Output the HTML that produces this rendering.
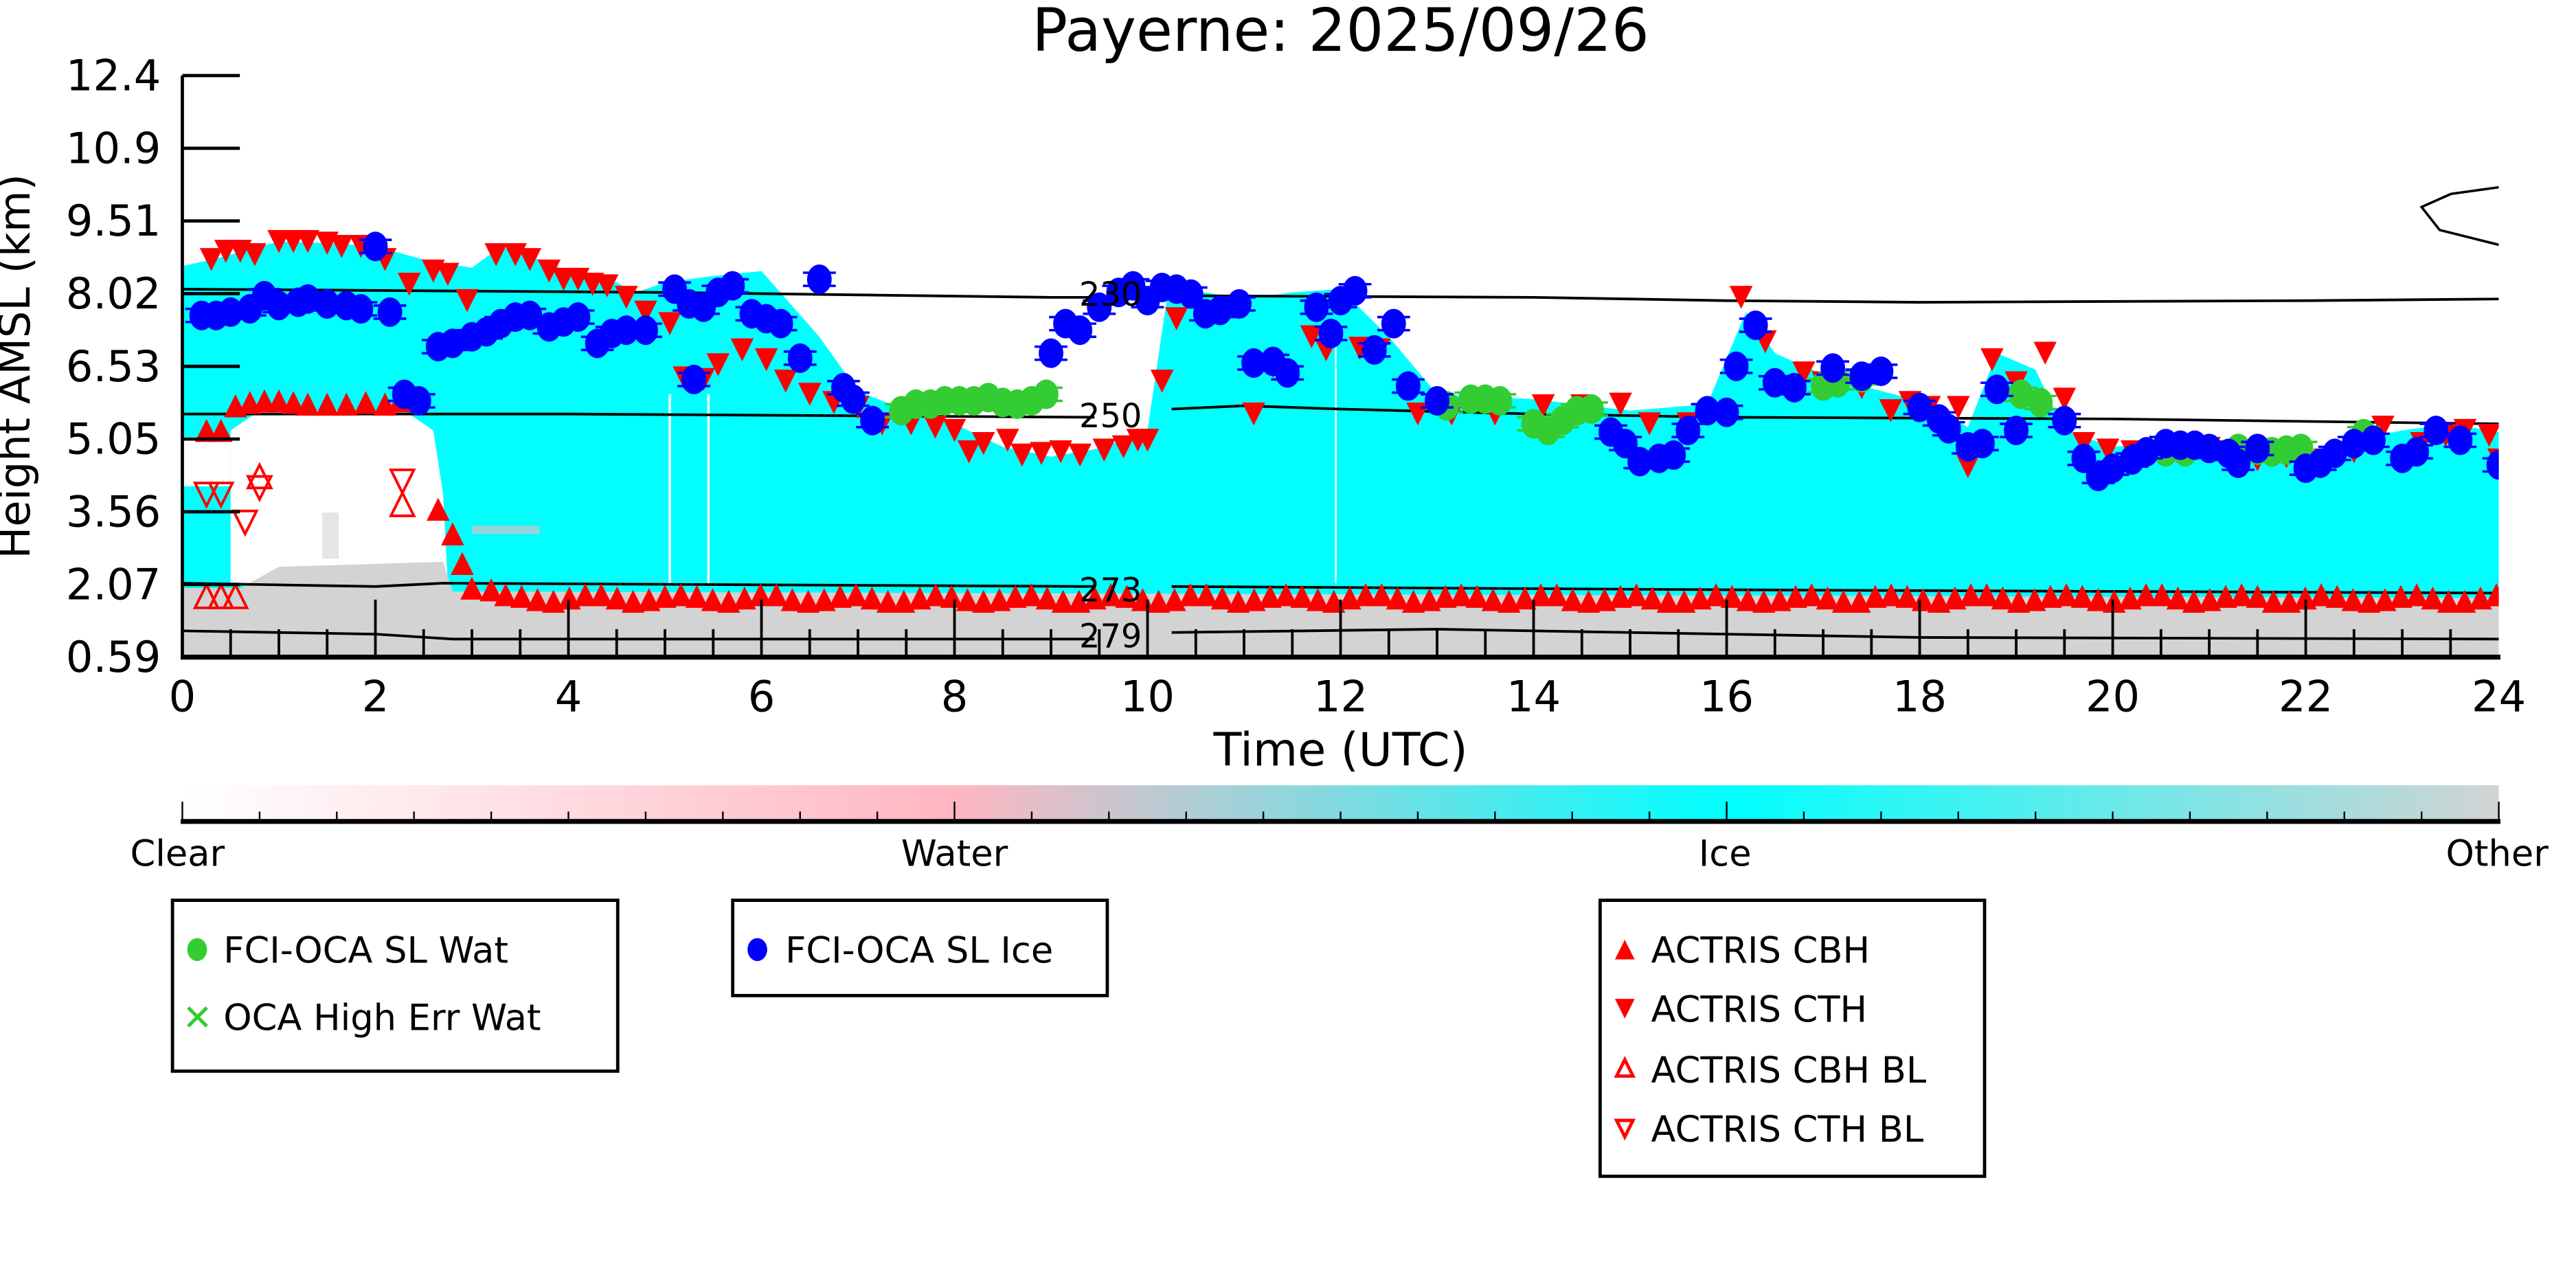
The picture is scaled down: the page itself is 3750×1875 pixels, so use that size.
<!DOCTYPE html>
<html><head><meta charset="utf-8"><style>
html,body{margin:0;padding:0;background:#fff;overflow:hidden}
svg{display:block}
text{font-family:"DejaVu Sans","Liberation Sans",sans-serif}
</style></head><body>
<svg id="s" width="3750" height="1875" viewBox="0 0 1568 784" preserveAspectRatio="none" xmlns="http://www.w3.org/2000/svg">
<defs>
<linearGradient id="cb" x1="0" x2="1" y1="0" y2="0">
<stop offset="0" stop-color="#ffffff"/>
<stop offset="0.333" stop-color="#ffb6c1"/>
<stop offset="0.667" stop-color="#00ffff"/>
<stop offset="1" stop-color="#d3d3d3"/>
</linearGradient>
<clipPath id="pc"><rect x="111" y="46" width="1410" height="354"/></clipPath>
</defs>
<text x="816" y="31" font-size="36" text-anchor="middle">Payerne: 2025/09/26</text>
<g clip-path="url(#pc)" id="plot"></g>
<g id="axes"></g>
<rect x="111" y="478" width="1410" height="22" fill="url(#cb)"/>
<g id="cbax"></g>
<g font-size="22" text-anchor="middle">
<text x="108" y="527">Clear</text><text x="581" y="527">Water</text><text x="1050" y="527">Ice</text><text x="1520" y="527">Other</text>
</g>
<g fill="none" stroke="#000" stroke-width="2">
<rect x="105" y="548" width="271" height="104"/>
<rect x="446" y="548" width="228" height="58"/>
<rect x="974" y="548" width="234" height="168"/>
</g>
<g font-size="22">
<ellipse cx="120" cy="578" rx="6" ry="7" fill="#33cc33"/><text x="136" y="586">FCI-OCA SL Wat</text>
<text x="111" y="627" fill="#33cc33" font-size="22">✕</text><text x="136" y="627">OCA High Err Wat</text>
<ellipse cx="461" cy="578" rx="6" ry="7" fill="#0000ff"/><text x="478" y="586">FCI-OCA SL Ice</text>
<polygon points="983,584 995,584 989,572" fill="#f00"/><text x="1005" y="586">ACTRIS CBH</text>
<polygon points="983,608 995,608 989,620" fill="#f00"/><text x="1005" y="622">ACTRIS CTH</text>
<polygon points="984,655 994,655 989,645" fill="none" stroke="#f00" stroke-width="2"/><text x="1005" y="659">ACTRIS CBH BL</text>
<polygon points="984,682 994,682 989,692" fill="none" stroke="#f00" stroke-width="2"/><text x="1005" y="695">ACTRIS CTH BL</text>
</g>
<text x="816" y="466" font-size="28" text-anchor="middle">Time (UTC)</text>
<text transform="translate(18,223) rotate(-90)" font-size="26" text-anchor="middle">Height AMSL (km)</text>
</svg>
<script>
(function(){
var NS="http://www.w3.org/2000/svg";
function X(t){return 111+t*58.75;}
function el(p,n,a){var e=document.createElementNS(NS,n);for(var k in a)e.setAttribute(k,a[k]);p.appendChild(e);return e;}
var P=document.getElementById('plot'),A=document.getElementById('axes'),C=document.getElementById('cbax');
var envTop=[[0,162],[0.3,158],[0.5,155],[1,147],[1.5,148],[2,150],[2.5,158],[3,163],[3.3,150],[3.7,158],[4,165],[4.5,172],[4.7,178],[5,172],[5.5,168],[6,165],[6.3,185],[6.6,205],[7,238],[7.5,250],[8,258],[8.5,272],[9,278],[9.5,273],[10,262],[10.2,182],[10.6,178],[11,182],[11.5,178],[12,176],[12.5,205],[13,240],[14,243],[15,250],[15.8,246],[16.2,190],[16.5,215],[17,228],[17.6,238],[18,244],[18.5,260],[18.8,215],[19.2,225],[19.5,262],[20,272],[21,268],[22,275],[22.5,268],[23,262],[23.5,258],[24,263]];
var d="M"+X(0)+",400 ";envTop.forEach(function(p){d+="L"+X(p[0])+","+p[1]+" ";});d+="L"+X(24)+",400Z";
el(P,'path',{d:d,fill:'#00ffff'});
el(P,'path',{d:"M"+X(0.5)+",355 L"+X(0.5)+",262 L"+X(0.8)+",250 L"+X(2.3)+",250 L"+X(2.6)+",262 L"+X(2.7)+",300 L"+X(2.75)+",355Z",fill:'#fff'});
el(P,'rect',{x:X(0),y:266,width:X(0.5)-X(0),height:30,fill:'#fff'});
el(P,'path',{d:"M"+X(0)+",400 L"+X(0)+",358 L"+X(0.6)+",358 L"+X(1)+",345 L"+X(2.7)+",342 L"+X(2.8)+",360 L"+X(24)+",364 L"+X(24)+",400Z",fill:'#d3d3d3'});
el(P,'rect',{x:X(1.45),y:312,width:10,height:28,fill:'#d3d3d3',opacity:0.6});
el(P,'rect',{x:X(3),y:320,width:X(3.7)-X(3),height:5,fill:'#ffb6c1',opacity:0.6});
el(P,'line',{x1:X(5.05),x2:X(5.05),y1:240,y2:355,stroke:'#fff','stroke-width':1.5});
el(P,'line',{x1:X(5.45),x2:X(5.45),y1:240,y2:355,stroke:'#fff','stroke-width':1.5});
el(P,'line',{x1:X(11.95),x2:X(11.95),y1:200,y2:355,stroke:'#fff','stroke-width':1});
function cl(pts){el(P,'polyline',{points:pts.map(function(p){return X(p[0])+","+p[1];}).join(" "),fill:'none',stroke:'#000','stroke-width':1.6});}
cl([[0,176],[5,178],[9,181],[9.45,181]]);cl([[10.25,180],[14,181],[16,183],[18,184],[22,183],[24,182]]);
cl([[0,252],[4,252],[9.45,254]]);cl([[10.25,249],[11,247],[12,249],[14,252],[16,254],[20,255],[24,258]]);
cl([[0,355],[2,357],[2.7,355],[9.45,357]]);cl([[10.25,357],[16,359],[20,360],[24,361]]);
cl([[0,384],[2,386],[2.8,389],[9.45,389]]);cl([[10.25,385],[13,383],[15,385],[18,388],[24,389]]);
el(P,'path',{d:"M1521,114 L1492,118 L1474,126 L1485,140 L1521,149",fill:'none',stroke:'#000','stroke-width':1.5});
function up(t,y,fill){var x=X(t);el(P,'polygon',{points:(x-7)+","+(y+7)+" "+(x+7)+","+(y+7)+" "+x+","+(y-7),fill:fill?'#f00':'none',stroke:'#f00','stroke-width':fill?0:1.6});}
function dn(t,y,fill){var x=X(t);el(P,'polygon',{points:(x-7)+","+(y-7)+" "+(x+7)+","+(y-7)+" "+x+","+(y+7),fill:fill?'#f00':'none',stroke:'#f00','stroke-width':fill?0:1.6});}
function circ(t,y,c){var x=X(t);el(P,'line',{x1:x-10,x2:x+10,y1:y-4,y2:y-4,stroke:c,'stroke-width':1.5});el(P,'line',{x1:x-10,x2:x+10,y1:y+4,y2:y+4,stroke:c,'stroke-width':1.5});el(P,'ellipse',{cx:x,cy:y,rx:7.5,ry:9,fill:c});}
[[0.25,262],[0.4,262],[0.55,247],[0.7,245],[0.85,244],[1,244],[1.15,245],[1.3,246],[1.5,246],[1.7,246],[1.9,245],[2.1,246],[2.25,244],[2.65,310],[2.8,325],[2.9,343],[3.0,358],[3.2,359]].forEach(function(p){up(p[0],p[1],1);});
for(var t=3.35;t<=24;t+=0.165){up(t,364+Math.round(Math.sin(t*7)*2),1);}
[[0.3,158],[0.45,153],[0.6,153],[0.75,155],[1,147],[1.15,147],[1.3,147],[1.5,148],[1.65,150],[1.85,150],[2.1,158],[2.35,173],[2.6,165],[2.75,167],[2.95,183],[3.25,155],[3.45,155],[3.6,158],[3.8,165],[3.95,170],[4.1,170],[4.25,173],[4.4,174],[4.6,181],[4.8,190],[5.05,197],[5.2,230],[5.4,231],[5.55,222],[5.8,213],[6.05,219],[6.25,232],[6.5,240],[6.75,245],[7.0,248],[7.25,258],[7.55,258],[7.8,260],[8.0,262],[8.15,275],[8.3,270],[8.55,268],[8.7,277],[8.9,276],[9.1,275],[9.3,277],[9.55,274],[9.75,272],[9.9,268],[10.0,268],[10.15,232],[10.3,194],[11.1,252],[11.3,223],[11.7,205],[11.85,213],[12.2,212],[12.4,213],[12.8,252],[13.15,252],[13.6,252],[14.1,247],[14.5,247],[14.9,246],[15.2,258],[15.6,258],[16.15,181],[16.4,208],[16.8,227],[17,233],[17.4,236],[17.7,250],[17.9,245],[18.1,248],[18.4,248],[18.5,284],[18.75,219],[19.0,233],[19.3,215],[19.5,243],[19.7,270],[19.95,274],[20.2,275],[20.55,277],[20.75,275],[21.0,273],[21.2,275],[21.5,280],[21.8,278],[22.2,280],[22.5,275],[22.8,260],[23.2,270],[23.45,265],[23.65,262],[23.9,265],[24,280]].forEach(function(p){dn(p[0],p[1],1);});
[[0.25,301],[0.4,301],[0.8,297],[0.65,318],[2.28,293]].forEach(function(p){dn(p[0],p[1],0);});
[[0.8,290],[2.28,307],[0.25,363],[0.4,363],[0.55,363]].forEach(function(p){up(p[0],p[1],0);});
[[7.45,250],[7.6,246],[7.75,246],[7.9,244],[8.05,244],[8.2,244],[8.35,242],[8.5,245],[8.65,246],[8.8,244],[8.95,240],[13.1,247],[13.35,243],[13.5,243],[13.65,244],[14,258],[14.15,262],[14.3,256],[14.45,250],[14.6,249],[17,235],[17.15,233],[17.4,230],[19.05,240],[19.25,245],[20.55,275],[20.75,275],[21.3,273],[21.5,274],[21.65,275],[21.8,274],[21.95,273],[22.6,264]].forEach(function(p){circ(p[0],p[1],'#33cc33');});
[[0.2,192],[0.35,192],[0.5,190],[0.7,188],[0.85,180],[1,186],[1.2,184],[1.3,182],[1.5,185],[1.7,186],[1.85,188],[2,150],[2.15,190],[2.3,240],[2.45,244],[2.65,211],[2.8,209],[3,205],[3.15,202],[3.3,197],[3.45,193],[3.6,192],[3.8,199],[3.95,196],[4.1,193],[4.3,209],[4.45,203],[4.6,201],[4.8,201],[5.3,231],[5.1,176],[5.25,185],[5.4,187],[5.55,178],[5.7,174],[5.9,191],[6.05,194],[6.2,197],[6.4,218],[6.6,170],[6.85,236],[6.95,243],[7.15,256],[9,215],[9.15,197],[9.3,201],[9.5,187],[9.7,178],[9.85,174],[10,183],[10.15,175],[10.3,176],[10.45,179],[10.6,191],[10.75,189],[10.95,185],[11.1,221],[11.3,220],[11.45,227],[11.75,187],[11.9,203],[12,183],[12.15,177],[12.35,213],[12.55,197],[12.7,235],[13,244],[14.8,263],[14.95,270],[15.1,281],[15.3,279],[15.45,277],[15.6,262],[15.8,250],[16,251],[16.1,223],[16.3,198],[16.5,233],[16.7,236],[17.1,224],[17.4,229],[17.6,226],[18.0,248],[18.2,255],[18.3,261],[18.5,272],[18.65,270],[18.8,237],[19.0,262],[19.5,256],[19.7,279],[19.85,290],[20,285],[20.2,280],[20.35,275],[20.55,270],[20.7,271],[20.85,271],[21,273],[21.2,276],[21.3,282],[21.5,273],[22.0,285],[22.15,282],[22.3,276],[22.5,270],[22.7,268],[23,279],[23.15,275],[23.35,262],[23.6,268],[24,283]].forEach(function(p){circ(p[0],p[1],'#0000ff');});
[["230",178],["250",252],["273",358],["279",386]].forEach(function(a){var t=el(P,'text',{x:676,y:a[1]+8,'font-size':20,'text-anchor':'middle'});t.textContent=a[0];});
el(A,'line',{x1:111,x2:111,y1:46,y2:401,stroke:'#000','stroke-width':2});
el(A,'line',{x1:110,x2:1522,y1:400,y2:400,stroke:'#000','stroke-width':3});
var yl=["12.4","10.9","9.51","8.02","6.53","5.05","3.56","2.07","0.59"];
yl.forEach(function(s,i){var y=46+i*44.25;el(A,'line',{x1:111,x2:146,y1:y,y2:y,stroke:'#000','stroke-width':2});var tt=el(A,'text',{x:98,y:y+9,'font-size':26,'text-anchor':'end'});tt.textContent=s;});
for(var i=1;i<48;i++){var x=X(i/2);var maj=i%4==0;el(A,'line',{x1:x,x2:x,y1:400,y2:maj?365:383,stroke:'#000','stroke-width':1.6});}
for(var h=0;h<=24;h+=2){var tx=el(A,'text',{x:X(h),y:433,'font-size':26,'text-anchor':'middle'});tx.textContent=h;}
el(C,'line',{x1:110,x2:1522,y1:500,y2:500,stroke:'#000','stroke-width':3});
for(var j=0;j<=30;j++){var cx=111+j*1410/30;var mj=j%10==0;el(C,'line',{x1:cx,x2:cx,y1:500,y2:mj?488:494,stroke:'#000','stroke-width':1});}
})();
</script>
</body></html>
